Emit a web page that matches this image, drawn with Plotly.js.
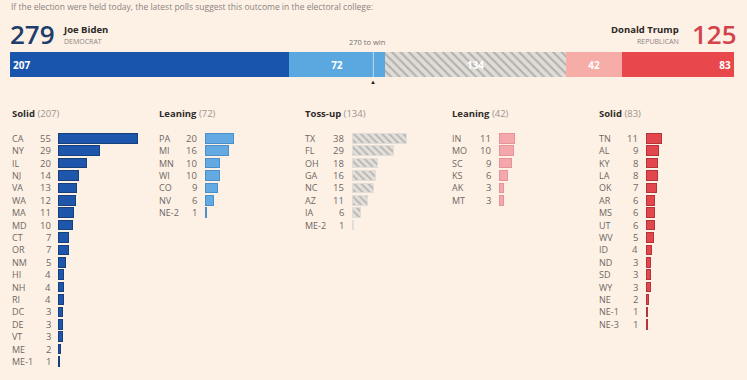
<!DOCTYPE html>
<html>
<head>
<meta charset="utf-8">
<script src="https://cdn.plot.ly/plotly-3.0.1.min.js"></script>
<style>html,body{margin:0;padding:0;background:#fdf1e6;}#chart{width:747px;height:380px;}</style>
</head>
<body>
<div id="chart"></div>
<script>
// ---------------- DATA ----------------
const groupTitles = ['Solid', 'Leaning', 'Toss-up', 'Leaning', 'Solid'];

const solidDemStates = ['CA','NY','IL','NJ','VA','WA','MA','MD','CT','OR','NM','HI','NH','RI','DC','DE','VT','ME','ME-1'];
const solidDemVotes  = [55, 29, 20, 14, 13, 12, 11, 10, 7, 7, 5, 4, 4, 4, 3, 3, 3, 2, 1];

const leanDemStates = ['PA','MI','MN','WI','CO','NV','NE-2'];
const leanDemVotes  = [20, 16, 10, 10, 9, 6, 1];

const tossUpStates = ['TX','FL','OH','GA','NC','AZ','IA','ME-2'];
const tossUpVotes  = [38, 29, 18, 16, 15, 11, 6, 1];

const leanRepStates = ['IN','MO','SC','KS','AK','MT'];
const leanRepVotes  = [11, 10, 9, 6, 3, 3];

const solidRepStates = ['TN','AL','KY','LA','OK','AR','MS','UT','WV','ID','ND','SD','WY','NE','NE-1','NE-3'];
const solidRepVotes  = [11, 9, 8, 8, 7, 6, 6, 6, 5, 4, 3, 3, 3, 2, 1, 1];

const demCandidate = 'Joe Biden', demParty = 'DEMOCRAT';
const repCandidate = 'Donald Trump', repParty = 'REPUBLICAN';
const majority = 270;
const introText = 'If the election were held today, the latest polls suggest this outcome in the electoral college:';

// ---------------- STYLE / LAYOUT ----------------
const W = 747, H = 380;
const FONT = 'Open Sans, sans-serif';
const px = x => x / W;
const py = y => 1 - y / H;
const sum = a => a.reduce((s, v) => s + v, 0);

const groups = [
  {states: solidDemStates, votes: solidDemVotes, fill: '#1d56ab', line: '#163f7c', topFill: '#1a55ad', anchor: 'start', labelX: 10, valX: 53, barX: 58},
  {states: leanDemStates, votes: leanDemVotes, fill: '#63a9e2', line: '#4b8fcb', topFill: '#5ba8e1', anchor: 'middle', labelX: 157, valX: 199, barX: 205},
  {states: tossUpStates, votes: tossUpVotes, fill: '#e1ddd9', line: '#e1ddd9', topFill: '#dedad6', anchor: 'middle', labelX: 303, valX: 346, barX: 352, hatch: true},
  {states: leanRepStates, votes: leanRepVotes, fill: '#f4a8ab', line: '#e8939a', topFill: '#f6aca7', anchor: 'middle', labelX: 450, valX: 493, barX: 499},
  {states: solidRepStates, votes: solidRepVotes, fill: '#e2474d', line: '#b6333a', topFill: '#e8484c', anchor: 'end', labelX: 597, valX: 640, barX: 646}
];
const totals = groups.map(g => sum(g.votes));
const grand = sum(totals);
const demTotal = totals[0] + totals[1];
const repTotal = totals[3] + totals[4];

const traces = [];
const annotations = [];
const shapes = [];
const layout = {
  width: W, height: H,
  margin: {l: 0, r: 0, t: 0, b: 0},
  paper_bgcolor: '#fdf1e6',
  plot_bgcolor: 'rgba(0,0,0,0)',
  showlegend: false,
  hovermode: false,
  barmode: 'stack',
  font: {family: FONT, color: '#66605b'},
  xaxis: {domain: [px(10), px(734)], range: [0, grand], visible: false, fixedrange: true},
  yaxis: {domain: [py(77), py(52)], range: [-0.5, 0.5], visible: false, fixedrange: true}
};

// Top stacked bar
groups.forEach((g, i) => {
  const t = {
    type: 'bar', orientation: 'h',
    x: [totals[i]], y: [0], width: 1,
    xaxis: 'x', yaxis: 'y',
    marker: {color: g.topFill, line: {width: 0}},
    text: [String(totals[i])],
    textposition: 'inside',
    insidetextanchor: g.anchor,
    textfont: {color: '#ffffff', size: 10, family: FONT, weight: 'bold'},
    constraintext: 'none'
  };
  if (g.hatch) t.marker.pattern = {shape: '\\', bgcolor: '#e0dcd8', fgcolor: '#b4b0ac', size: 6, solidity: 0.35};
  traces.push(t);
});

shapes.push({type: 'line', xref: 'x', yref: 'y', x0: majority, x1: majority, y0: -0.5, y1: 0.5,
  line: {color: 'rgba(255,255,255,0.6)', width: 1}});
annotations.push({xref: 'x', yref: 'paper', x: majority, y: py(82), text: '▲', showarrow: false,
  font: {size: 6, color: '#222'}, xanchor: 'center', yanchor: 'middle'});
annotations.push({xref: 'x', yref: 'paper', x: majority, y: py(42), text: majority + ' to win', showarrow: false,
  font: {size: 7.5, color: '#77716c'}, xanchor: 'center', yanchor: 'middle', xshift: -6});

// Header
annotations.push({xref: 'paper', yref: 'paper', x: px(9), y: py(6), text: introText, showarrow: false,
  font: {size: 8.5, color: '#8a8480'}, xanchor: 'left', yanchor: 'middle'});
annotations.push({xref: 'paper', yref: 'paper', x: px(8), y: py(34), text: String(demTotal), showarrow: false,
  font: {size: 26, color: '#1f3d6b', weight: 600}, xanchor: 'left', yanchor: 'middle'});
annotations.push({xref: 'paper', yref: 'paper', x: px(61), y: py(29), text: '<b>' + demCandidate + '</b>', showarrow: false,
  font: {size: 9.5, color: '#2b2826'}, xanchor: 'left', yanchor: 'middle'});
annotations.push({xref: 'paper', yref: 'paper', x: px(62), y: py(41), text: demParty, showarrow: false,
  font: {size: 7, color: '#8a8480'}, xanchor: 'left', yanchor: 'middle'});
annotations.push({xref: 'paper', yref: 'paper', x: px(739), y: py(34), text: String(repTotal), showarrow: false,
  font: {size: 26, color: '#d4434b', weight: 600}, xanchor: 'right', yanchor: 'middle'});
annotations.push({xref: 'paper', yref: 'paper', x: px(681), y: py(29), text: '<b>' + repCandidate + '</b>', showarrow: false,
  font: {size: 9.5, color: '#2b2826'}, xanchor: 'right', yanchor: 'middle'});
annotations.push({xref: 'paper', yref: 'paper', x: px(681), y: py(41), text: repParty, showarrow: false,
  font: {size: 7, color: '#8a8480'}, xanchor: 'right', yanchor: 'middle'});

// Small multiples
const ROW = 12.4, TOP = 138.3 - ROW / 2, NROWS = 19, SCALE = 1.44, XR = 60;
groups.forEach((g, i) => {
  const k = i + 2;
  const xa = 'xaxis' + k, ya = 'yaxis' + k;
  layout[xa] = {domain: [px(g.barX), px(g.barX + SCALE * XR)], range: [0, XR], visible: false, fixedrange: true, anchor: 'y' + k};
  layout[ya] = {domain: [py(TOP + NROWS * ROW), py(TOP)], range: [NROWS - 0.5, -0.5], visible: false, fixedrange: true, anchor: 'x' + k};
  const t = {
    type: 'bar', orientation: 'h',
    x: g.votes, y: g.states.map((s, j) => j), width: 0.78,
    xaxis: 'x' + k, yaxis: 'y' + k,
    marker: {color: g.fill, line: {color: g.line, width: 1}}
  };
  if (g.hatch) t.marker.pattern = {shape: '\\', bgcolor: '#e3dfdb', fgcolor: '#b9b5b1', size: 5, solidity: 0.35};
  traces.push(t);

  annotations.push({xref: 'paper', yref: 'paper', x: px(g.labelX), y: py(113.5),
    text: '<b>' + groupTitles[i] + '</b> <span style="color:#9a948f">(' + totals[i] + ')</span>',
    showarrow: false, font: {size: 9.5, color: '#2f2c2a'}, xanchor: 'left', yanchor: 'middle'});

  g.states.forEach((s, j) => {
    annotations.push({xref: 'paper', yref: 'y' + k, x: px(g.labelX), y: j, text: s, showarrow: false,
      font: {size: 9, color: '#6e6863'}, xanchor: 'left', yanchor: 'middle'});
    annotations.push({xref: 'paper', yref: 'y' + k, x: px(g.valX), y: j, text: String(g.votes[j]), showarrow: false,
      font: {size: 9.5, color: '#6e6863'}, xanchor: 'right', yanchor: 'middle'});
  });
});

layout.annotations = annotations;
layout.shapes = shapes;

Plotly.newPlot('chart', traces, layout, {displayModeBar: false, staticPlot: true});
</script>
</body>
</html>
